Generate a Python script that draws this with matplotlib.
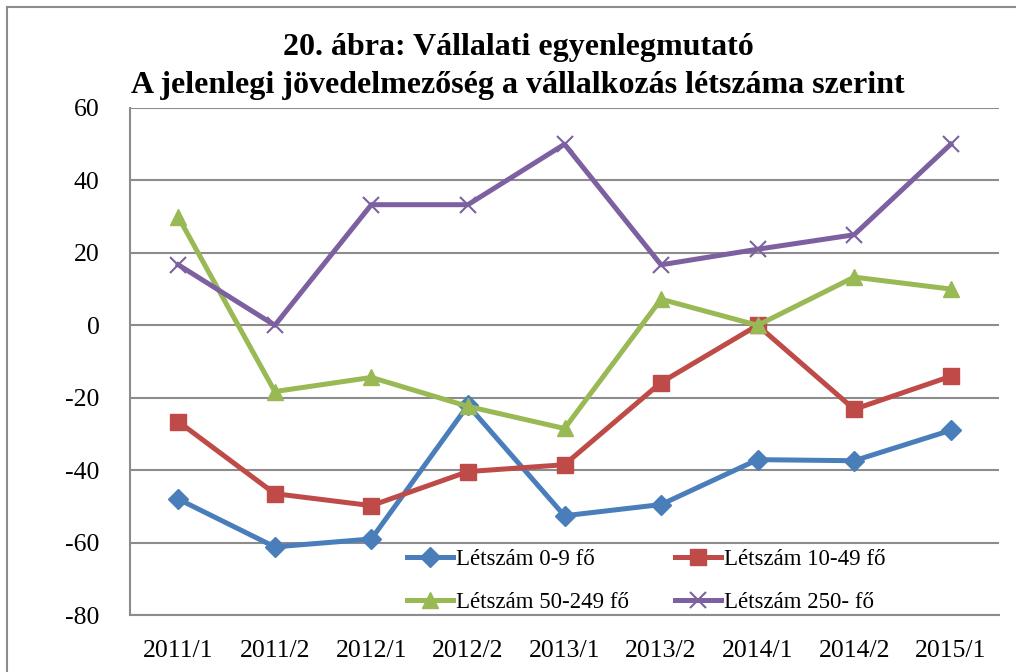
import matplotlib.pyplot as plt
from matplotlib.lines import Line2D

plt.rcParams['font.family'] = ['Liberation Serif', 'DejaVu Serif']
plt.rcParams['axes.unicode_minus'] = False

# Adatok
idoszakok = ['2011/1', '2011/2', '2012/1', '2012/2', '2013/1', '2013/2', '2014/1', '2014/2', '2015/1']
letszam_0_9 = [-48, -61.2, -59, -22.1, -52.6, -49.5, -37.1, -37.4, -29]
letszam_10_49 = [-26.6, -46.5, -49.8, -40.4, -38.5, -15.8, 0, -23.2, -14.1]
letszam_50_249 = [29.9, -18.3, -14.4, -22.4, -28.5, 7.2, 0, 13.3, 10]
letszam_250 = [16.7, 0, 33.3, 33.3, 50, 16.7, 21, 25, 50]

fig = plt.figure(figsize=(10.16, 6.72), dpi=100)
ax = fig.add_axes([130 / 1016, 1 - 615 / 672, 869 / 1016, 507 / 672])

x = range(len(idoszakok))
lw = 3.6
l1, = ax.plot(x, letszam_0_9, color='#4A7EBB', lw=lw, marker='D', ms=10, label='Létszám 0-9 fő', zorder=3)
l2, = ax.plot(x, letszam_10_49, color='#BE4B48', lw=lw, marker='s', ms=11, label='Létszám 10-49 fő', zorder=3)
l3, = ax.plot(x, letszam_50_249, color='#98B954', lw=lw, marker='^', ms=12, label='Létszám 50-249 fő', zorder=3)
l4, = ax.plot(x, letszam_250, color='#7D60A0', lw=lw, marker='x', ms=11, mew=1.5, label='Létszám 250- fő', zorder=3)

ax.set_xlim(-0.5, len(idoszakok) - 0.5)
ax.set_ylim(-80, 60)
ax.set_yticks(range(-80, 61, 20))
ax.set_xticks(list(x))
ax.set_xticklabels(idoszakok)
ax.tick_params(axis='both', length=0, labelsize=18.5, colors='black')
ax.tick_params(axis='y', pad=22)
ax.tick_params(axis='x', pad=18)
ax.yaxis.grid(True, color='#8C8C8C', lw=1.5, zorder=0)
ax.set_axisbelow(True)
for s in ['top', 'right']:
    ax.spines[s].set_visible(False)
for s in ['left', 'bottom']:
    ax.spines[s].set_color('#8C8C8C')
    ax.spines[s].set_linewidth(1.5)

# sorrend: soronként
leg = ax.legend([l1, l3, l2, l4], [l1.get_label(), l3.get_label(), l2.get_label(), l4.get_label()],
                loc='upper left', bbox_to_anchor=(400 / 1016, 1 - 542 / 672), bbox_transform=fig.transFigure,
                ncol=2, frameon=False, fontsize=16.5, handlelength=2.0, handletextpad=0.15,
                columnspacing=2.0, labelspacing=0.95, borderaxespad=0, borderpad=0.3)

fig.text(518 / 1016, 1 - 47 / 672, '20. ábra: Vállalati egyenlegmutató', ha='center', va='center',
         fontsize=23, fontweight='bold')
fig.text(518 / 1016, 1 - 85 / 672, 'A jelenlegi jövedelmezőség a vállalkozás létszáma szerint',
         ha='center', va='center', fontsize=23, fontweight='bold')

# keret
fig.add_artist(Line2D([7 / 1016, 7 / 1016], [0, 1 - 7 / 672], color='#8C8C8C', lw=1.5, transform=fig.transFigure))
fig.add_artist(Line2D([7 / 1016, 1], [1 - 7 / 672, 1 - 7 / 672], color='#8C8C8C', lw=1.5, transform=fig.transFigure))

fig.savefig('out.png', dpi=100)
